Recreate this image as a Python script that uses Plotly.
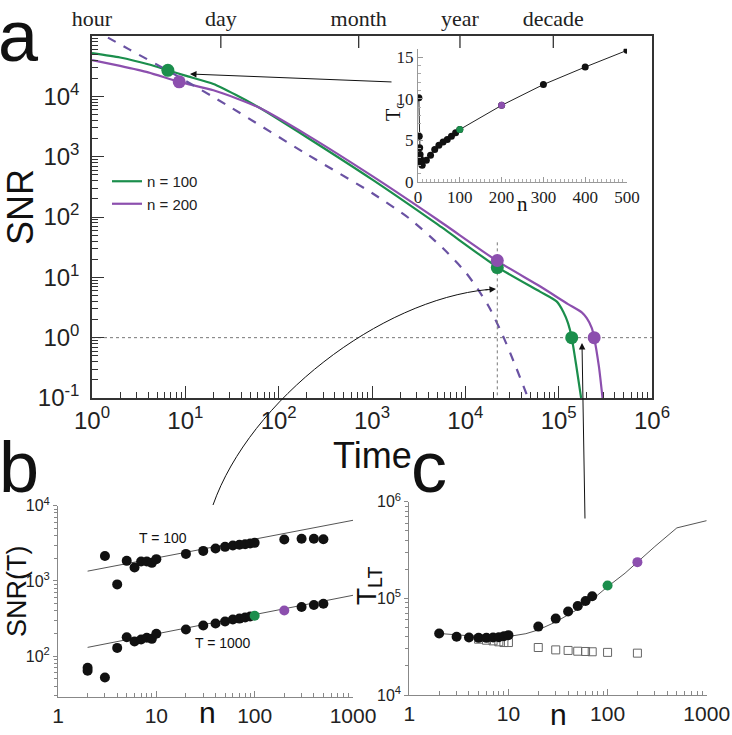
import plotly.graph_objects as go

W, H = 732, 735
SANS = "Liberation Sans, Arial, sans-serif"
SERIF = "Liberation Serif, Times New Roman, serif"
GREEN = "#1b8e4c"
PURPLE = "#8c4fae"
DASHED = "#6a52a3"

# ---- panel a: SNR vs time (log-log)
t_n100 = [1, 2, 4, 6.5, 10, 20, 35, 63, 200, 1000, 5000, 2.2e4, 6.3e4, 9.5e4, 1.12e5, 1.26e5, 1.38e5, 1.55e5, 1.74e5]
snr_n100 = [5.2e4, 4.4e4, 3.4e4, 2.7e4, 2.2e4, 1.6e4, 1.05e4, 6.4e3, 2.1e3, 420, 76, 14.8, 5.8, 4.0, 2.7, 1.74, 1.0, 0.33, 0.1]

t_n200 = [1, 2, 4, 8.6, 20, 35, 63, 200, 1000, 5000, 2.2e4, 6.3e4, 1.26e5, 1.78e5, 2.0e5, 2.26e5, 2.4e5, 2.7e5, 2.95e5]
snr_n200 = [4.0e4, 3.2e4, 2.5e4, 1.74e4, 1.26e4, 9.3e3, 6.4e3, 2.3e3, 480, 91, 18.6, 7.1, 3.6, 2.6, 2.1, 1.45, 1.0, 0.33, 0.1]

t_n200_dash = [1, 2.5, 7, 32, 200, 1000, 2500, 5800, 1e4, 1.35e4, 1.8e4, 2.5e4, 3.5e4, 4.7e4]
snr_n200_dash = [1.32e5, 6.0e4, 2.5e4, 6.3e3, 1.1e3, 250, 95, 30, 12.3, 6.5, 3.2, 1.12, 0.32, 0.1]

dot_t_n100 = [6.5, 2.2e4, 1.38e5]
dot_snr_n100 = [2.7e4, 14.5, 1.0]
dot_t_n200 = [8.6, 2.2e4, 2.4e5]
dot_snr_n200 = [1.74e4, 19, 1.0]

t_mark = 2.2e4
unit_ticks = [1, 24, 720, 8760, 87600]
unit_labels = ["hour", "day", "month", "year", "decade"]

# ---- inset: crossover time T_c vs n
n_inset = [2, 3, 4, 5, 6, 7, 8, 9, 10, 20, 30, 40, 50, 60, 70, 80, 90, 100, 200, 300, 400, 500]
tc_inset = [10.1, 5.5, 4.1, 3.3, 2.8, 2.5, 2.3, 2.1, 2.0, 2.6, 3.2, 3.9, 4.4, 4.8, 5.1, 5.5, 5.9, 6.3, 9.2, 11.7, 13.8, 15.8]

# ---- panel b: SNR(T) vs n
n_b = [2, 3, 4, 5, 6, 7, 8, 9, 10, 20, 30, 40, 50, 60, 70, 80, 90, 100, 200, 300, 400, 500]
snr_T100 = [70, 2150, 900, 1850, 1510, 1810, 1810, 1740, 1950, 2290, 2510, 2700, 2840, 2960, 3020, 3080, 3150, 3210, 3560, 3630, 3630, 3590]
n_b1000 = [2, 3, 4, 5, 6, 7, 8, 9, 10, 20, 30, 40, 50, 60, 70, 80, 90, 300, 400, 500]
snr_T1000 = [64, 52, 129, 179, 157, 167, 176, 170, 199, 226, 256, 272, 289, 307, 316, 327, 337, 450, 478, 499]
fit_n = [2, 1000]
fit_T100 = [1350, 6400]
fit_T1000 = [131, 645]

# ---- panel c: lifetime T_LT vs n
n_c = [2, 3, 4, 5, 6, 7, 8, 9, 10, 20, 30, 40, 50, 60, 70]
tlt_c = [43300, 40000, 39300, 39000, 39000, 39300, 39600, 40500, 41600, 51000, 61700, 73000, 83200, 93800, 105000]
n_sq = [5, 6, 7, 8, 9, 10, 20, 30, 40, 50, 60, 70, 100, 200]
tlt_sq = [37800, 36900, 36300, 35500, 34900, 34900, 31000, 29300, 28900, 28400, 28200, 28000, 27600, 27100]
n_cfit = [2, 3, 5, 7, 10, 15, 20, 30, 40, 50, 70, 100, 150, 200, 300, 500, 1000]
tlt_cfit = [43300, 41700, 40300, 39800, 40300, 43100, 47100, 57000, 67600, 77100, 97100, 132000, 182000, 237000, 344000, 536000, 637000]


def px(x, y):
    return x / W, 1 - y / H


def log_minor(lo, hi):
    return [m * 10 ** k for k in range(lo, hi) for m in range(2, 10)]


fig = go.Figure()

# panel a curves
fig.add_trace(go.Scatter(x=t_n100, y=snr_n100, mode="lines", name="n = 100",
                         line=dict(color=GREEN, width=2.2, shape="spline", smoothing=0.6)))
fig.add_trace(go.Scatter(x=t_n200, y=snr_n200, mode="lines", name="n = 200",
                         line=dict(color=PURPLE, width=2.2, shape="spline", smoothing=0.6)))
fig.add_trace(go.Scatter(x=t_n200_dash, y=snr_n200_dash, mode="lines", showlegend=False,
                         line=dict(color=DASHED, width=2.2, dash="dash", shape="spline", smoothing=0.6)))
# reference lines
fig.add_trace(go.Scatter(x=[1, 1e6], y=[1, 1], mode="lines", showlegend=False,
                         line=dict(color="#777", width=1, dash="dot")))
fig.add_trace(go.Scatter(x=[t_mark, t_mark], y=[38, 0.1], mode="lines", showlegend=False,
                         line=dict(color="#777", width=1, dash="dot")))
fig.add_trace(go.Scatter(x=dot_t_n100, y=dot_snr_n100, mode="markers", showlegend=False,
                         marker=dict(color=GREEN, size=13)))
fig.add_trace(go.Scatter(x=dot_t_n200, y=dot_snr_n200, mode="markers", showlegend=False,
                         marker=dict(color=PURPLE, size=13)))
# time-unit tick marks hanging from the top frame
tick_x, tick_y = [], []
for t in unit_ticks[1:]:
    tick_x += [t, t, None]
    tick_y += [1e5, 10 ** 4.8, None]
fig.add_trace(go.Scatter(x=tick_x, y=tick_y, mode="lines", showlegend=False, hoverinfo="skip",
                         line=dict(color="#333", width=1.3)))
# carrier for the top time-unit axis labels
fig.add_trace(go.Scatter(x=[10], y=[1], xaxis="x2", yaxis="y", mode="markers",
                         marker=dict(opacity=0), showlegend=False, hoverinfo="skip"))

# inset
fig.add_trace(go.Scatter(x=n_inset, y=tc_inset, mode="lines+markers", xaxis="x3", yaxis="y3",
                         showlegend=False, line=dict(color="#222", width=1),
                         marker=dict(color="#111", size=7)))
fig.add_trace(go.Scatter(x=[n_inset[17]], y=[tc_inset[17]], mode="markers", xaxis="x3", yaxis="y3",
                         showlegend=False, marker=dict(color=GREEN, size=7)))
fig.add_trace(go.Scatter(x=[n_inset[18]], y=[tc_inset[18]], mode="markers", xaxis="x3", yaxis="y3",
                         showlegend=False, marker=dict(color=PURPLE, size=7)))

# panel b
for fy in (fit_T100, fit_T1000):
    fig.add_trace(go.Scatter(x=fit_n, y=fy, mode="lines", xaxis="x4", yaxis="y4", showlegend=False,
                             line=dict(color="#555", width=1)))
fig.add_trace(go.Scatter(x=n_b, y=snr_T100, mode="markers", xaxis="x4", yaxis="y4", showlegend=False,
                         marker=dict(color="#111", size=10)))
fig.add_trace(go.Scatter(x=n_b1000, y=snr_T1000, mode="markers", xaxis="x4", yaxis="y4", showlegend=False,
                         marker=dict(color="#111", size=10)))
fig.add_trace(go.Scatter(x=[100], y=[344], mode="markers", xaxis="x4", yaxis="y4", showlegend=False,
                         marker=dict(color=GREEN, size=10)))
fig.add_trace(go.Scatter(x=[200], y=[405], mode="markers", xaxis="x4", yaxis="y4", showlegend=False,
                         marker=dict(color=PURPLE, size=10)))

# panel c
fig.add_trace(go.Scatter(x=n_cfit, y=tlt_cfit, mode="lines", xaxis="x5", yaxis="y5", showlegend=False,
                         line=dict(color="#555", width=1)))
fig.add_trace(go.Scatter(x=n_sq, y=tlt_sq, mode="markers", xaxis="x5", yaxis="y5", showlegend=False,
                         marker=dict(symbol="square-open", color="#666", size=8, line=dict(width=1))))
fig.add_trace(go.Scatter(x=n_c, y=tlt_c, mode="markers", xaxis="x5", yaxis="y5", showlegend=False,
                         marker=dict(color="#111", size=10)))
fig.add_trace(go.Scatter(x=[100], y=[136000], mode="markers", xaxis="x5", yaxis="y5", showlegend=False,
                         marker=dict(color=GREEN, size=10)))
fig.add_trace(go.Scatter(x=[200], y=[237000], mode="markers", xaxis="x5", yaxis="y5", showlegend=False,
                         marker=dict(color=PURPLE, size=10)))


def pow_labels(exps):
    return [f"10<sup>{e}</sup>" for e in exps]


main_ax = dict(type="log", showline=True, linecolor="#333", linewidth=1.5, mirror=True,
               showgrid=False, zeroline=False, ticks="inside", ticklen=12, tickcolor="#333",
               automargin=False, tickfont=dict(family=SANS, size=24, color="#222"))
small_ax = dict(type="log", showline=True, linecolor="#888", linewidth=1, showgrid=False,
                zeroline=False, tickcolor="#888", ticklen=6, automargin=False)

fig.update_layout(
    template="none",
    width=W, height=H, margin=dict(l=0, r=0, t=0, b=0, autoexpand=False),
    plot_bgcolor="white", paper_bgcolor="white",
    xaxis=dict(main_ax, domain=[92 / W, 652 / W], anchor="y", range=[0, 6],
               tickvals=[10 ** k for k in range(7)], ticktext=pow_labels(range(7)),
               minor=dict(tickmode="array", tickvals=log_minor(0, 6), ticks="inside", ticklen=6,
                          tickcolor="#333", showgrid=False)),
    yaxis=dict(main_ax, domain=[1 - 398 / H, 1 - 36 / H], anchor="x", range=[-1, 5],
               tickvals=[10 ** k for k in range(-1, 5)], ticktext=pow_labels(range(-1, 5)),
               ticklabelstandoff=6,
               minor=dict(tickmode="array", tickvals=log_minor(-1, 5), ticks="inside", ticklen=6,
                          tickcolor="#333", showgrid=False)),
    xaxis2=dict(type="log", overlaying="x", side="top", anchor="y", range=[0, 6],
                tickvals=unit_ticks, ticktext=unit_labels, ticks="", ticklabelstandoff=5,
                showline=False, showgrid=False, zeroline=False,
                automargin=False, tickfont=dict(family=SERIF, size=22, color="#222")),
    xaxis3=dict(domain=[418 / W, 627 / W], anchor="y3", range=[0, 500], dtick=100,
                showline=True, linecolor="#999", linewidth=1, showgrid=False, zeroline=False,
                ticks="inside", ticklen=5, tickcolor="#999", automargin=False,
                minor=dict(dtick=10, ticks="inside", ticklen=3, tickcolor="#aaa", showgrid=False),
                tickfont=dict(family=SERIF, size=17, color="#222")),
    yaxis3=dict(domain=[1 - 182 / H, 1 - 48.7 / H], anchor="x3", range=[0, 16], dtick=5,
                showline=True, linecolor="#999", linewidth=1, showgrid=False, zeroline=False,
                ticks="inside", ticklen=5, tickcolor="#999", automargin=False,
                minor=dict(dtick=1, ticks="inside", ticklen=3, tickcolor="#aaa", showgrid=False),
                tickfont=dict(family=SERIF, size=17, color="#222")),
    xaxis4=dict(small_ax, domain=[58 / W, 353 / W], anchor="y4", range=[0, 3],
                tickvals=[1, 10, 100, 1000], ticktext=["1", "10", "100", "1000"], ticks="inside",
                tickfont=dict(family=SANS, size=21, color="#222"),
                minor=dict(tickmode="array", tickvals=log_minor(0, 3), ticks="inside", ticklen=4,
                           tickcolor="#888", showgrid=False)),
    yaxis4=dict(small_ax, domain=[1 - 696.7 / H, 1 - 505.7 / H], anchor="x4", range=[1.462, 4],
                tickvals=[100, 1000, 10000], ticktext=pow_labels([2, 3, 4]), ticks="outside",
                ticklen=4, tickfont=dict(family=SANS, size=16, color="#222"),
                minor=dict(tickmode="array", tickvals=log_minor(1, 4), ticks="outside", ticklen=3,
                           tickcolor="#888", showgrid=False)),
    xaxis5=dict(small_ax, domain=[409.3 / W, 706.7 / W], anchor="y5", range=[0, 3],
                tickvals=[1, 10, 100, 1000], ticktext=["1", "10", "100", "1000"], ticks="inside",
                tickfont=dict(family=SANS, size=21, color="#222"),
                minor=dict(tickmode="array", tickvals=log_minor(0, 3), ticks="inside", ticklen=4,
                           tickcolor="#888", showgrid=False)),
    yaxis5=dict(small_ax, domain=[1 - 695 / H, 1 - 501.7 / H], anchor="x5", range=[4, 6],
                tickvals=[1e4, 1e5, 1e6], ticktext=pow_labels([4, 5, 6]), ticks="outside",
                ticklen=4, tickfont=dict(family=SANS, size=16, color="#222"),
                minor=dict(tickmode="array", tickvals=log_minor(4, 6), ticks="outside", ticklen=3,
                           tickcolor="#888", showgrid=False)),
    legend=dict(x=107 / W, y=1 - 165 / H, xanchor="left", yanchor="top", bgcolor="rgba(0,0,0,0)",
                font=dict(family=SANS, size=15, color="#222"), tracegroupgap=0, itemwidth=30),
)


def label(text, x, y, size, family=SANS, angle=0):
    xp, yp = px(x, y)
    fig.add_annotation(text=text, x=xp, y=yp, xref="paper", yref="paper", showarrow=False,
                       xanchor="center", yanchor="middle", textangle=angle,
                       font=dict(family=family, size=size, color="#111"))


label("a", 18, 36, 72)
label("b", 19, 467, 72)
label("c", 429, 467, 72)
label("SNR", 20, 207, 36, angle=-90)
label("Time", 372, 455, 36)
label("T<sub>c</sub>", 394, 112, 20, family=SERIF, angle=-90)
label("n", 522, 204, 21, family=SERIF)
label("SNR(T)", 17, 592, 27, angle=-90)
label("n", 207, 712, 30)
label("T<sub>LT</sub>", 368, 586, 28, angle=-90)
label("n", 558, 714, 30)
label("T = 100", 163, 538, 14)
label("T = 1000", 223, 643, 14)


def arrow(tip, tail):
    xp, yp = px(*tip)
    fig.add_annotation(x=xp, y=yp, xref="paper", yref="paper", text="", showarrow=True,
                       ax=tail[0] - tip[0], ay=tail[1] - tip[1], arrowhead=2, arrowsize=1.3,
                       arrowwidth=1, arrowcolor="#111")


arrow((190, 74), (393, 82))
arrow((582, 343), (585, 520))

# curved connector from panel b to the marked time
p0, p1, p2, p3 = px(213, 505), px(250, 400), px(380, 300), px(488, 289.5)
fig.add_shape(type="path", xref="paper", yref="paper",
              path=f"M {p0[0]},{p0[1]} C {p1[0]},{p1[1]} {p2[0]},{p2[1]} {p3[0]},{p3[1]}",
              line=dict(color="#111", width=1))
arrow((496, 289), (484, 290))

# page body has a default 8px margin; drop it so the figure sits at the window origin
fig.write_html("out.html", config={"displayModeBar": False},
               post_script="document.body.style.margin='0';")
